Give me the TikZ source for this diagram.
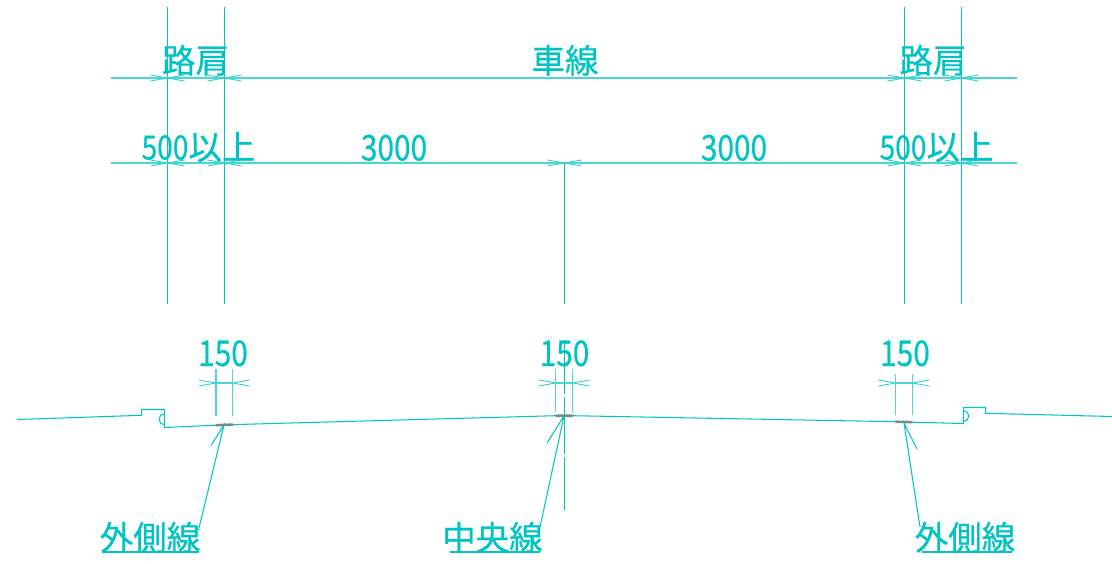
\documentclass[tikz,border=0pt]{standalone}
\usepackage{fontspec}
\setmainfont{Noto Sans CJK JP}
\newfontfamily\cadfont[RawFeature={embolden=0.6}]{Noto Sans CJK JP}
\definecolor{cad}{RGB}{0,196,196}
\definecolor{lane}{RGB}{125,135,135}
\tikzset{
  cadline/.style={draw=cad,line width=1.05pt},
  thinline/.style={draw=cad!70,line width=1.2pt},
  tickline/.style={draw=cad!80,line width=0.9pt},
  lanemark/.style={draw=lane,line width=2.6pt},
  lbl/.style={text=cad,inner sep=0pt,anchor=base,font=\cadfont\fontsize{33.5}{33.5}\selectfont},
  num/.style={text=cad,inner sep=0pt,anchor=base,font=\cadfont\fontsize{35.5}{35.5}\selectfont},
}
\newcommand{\nm}[1]{\scalebox{.84}[1]{#1}}
\newcommand{\xtick}[2]{\draw[tickline] (#1-17,#2-3)--(#1,#2)--(#1+17,#2+3) (#1-17,#2+3)--(#1,#2)--(#1+17,#2-3);}
\begin{document}
\begin{tikzpicture}[x=1pt,y=-1pt]
\useasboundingbox (0,0) rectangle (1112,563);
% named points
\foreach \n/\x/\y in {vaT/167.5/7,vaB/167.5/304,vbT/224.5/7,vbB/224.5/304,vcT/904.5/7,vcB/904.5/304,vdT/961.5/7,vdB/961.5/304,
  vmT/564.5/163,vmB/564.5/304,
  h1L/111/78,h1R/1017/78,h2L/111/163,h2R/1017/163,
  laT/216/369,laB/216/416,lbT/232.5/369,lbB/232.5/416,
  maT/555.7/369,maB/555.7/411.5,mbT/572.7/369,mbB/572.7/411.5,
  raT/895.3/374,raB/895.3/414.5,rbT/912.3/374,rbB/912.3/414.5,
  cA/564.5/340,cB/564.5/394,cC/564.5/397,cD/564.5/453.5,cE/564.5/456.5,cF/564.5/510,
  d1L/216/383,d1R/232.5/383,d2L/555.7/383,d2R/572.7/383,d3L/895.3/383,d3R/912.3/383,
  g1/17/419.5,g2/141.7/415.3,g3/141.7/409.5,g4/164.5/409.5,g5/164.5/427.5,g6/216/425.2,g7/233/424.6,g8/555.7/415.7,g9/572.7/415.7,g10/895.3/421.7,g11/912.3/422.2,g12/963.3/423.5,g13/963.3/407.5,g14/985.7/407.5,g15/985.7/413.3,g16/1112/416.5,
  ta/224/425,tc/564/416,tr/904/423,
  ea/198.5/530,ec/540/527,er/920/527,
  ka/211/445.5,kc/547/443,kr/917/449,
  ua/102/552,ub/199/552,uc/450/552,ud/540/552,ue/922/552,uf/1012/552,
  ca/164.5/419.3,cb/963.3/416}
  {\coordinate (\n) at (\x,\y);}
% extension lines
\draw[cadline] (vaT)--(vaB) (vbT)--(vbB) (vcT)--(vcB) (vdT)--(vdB) (vmT)--(vmB);
\draw[thinline] (h1L)--(h1R) (h2L)--(h2R);
\draw[thinline] (laT)--(laB) (lbT)--(lbB) (maT)--(maB) (mbT)--(mbB) (raT)--(raB) (rbT)--(rbB);
\draw[cadline] (cA)--(cB) (cC)--(cD) (cE)--(cF);
\draw[thinline] (d1L)--(d1R) (d2L)--(d2R) (d3L)--(d3R);
% ticks
\foreach \x in {167.5,224.5,904.5,961.5}{\xtick{\x}{78}\xtick{\x}{163}}
\xtick{564.5}{163}
\foreach \l/\r in {216/232.5,555.7/572.7,895.3/912.3}{
  \draw[tickline] (\l-17,380)--(\l,383)--(\l-17,386) (\r+17,380)--(\r,383)--(\r+17,386);}
% road profile
\draw[cadline] (g1)--(g2)--(g3)--(g4)--(g5)--(g6)--(g7)--(g8)--(g9)--(g10)--(g11)--(g12)--(g13)--(g14)--(g15)--(g16);
\draw[cadline] ([yshift=-5.5pt]ca) arc[start angle=270,end angle=90,radius=5.5pt];
\draw[cadline] ([yshift=-5.5pt]cb) arc[start angle=-90,end angle=90,radius=5.5pt];
\draw[lanemark] (g6)--(g7) (g8)--(g9) (g10)--(g11);
% leaders
\draw[cadline] (ka)--(ta)--(ea) (kc)--(tc)--(ec) (kr)--(tr)--(er);
\draw[cadline,line width=1.4pt] (ua)--(ub) (uc)--(ud) (ue)--(uf);
% labels
\node[lbl] (t1) at (195.5,73) {路肩};
\node[lbl] (t2) at (565,73) {車線};
\node[lbl] (t3) at (933,73) {路肩};
\node[lbl] (t4) at (198.5,159.5) {\nm{500}以上};
\node[num] (t5) at (394,160.5) {\nm{3000}};
\node[num] (t6) at (734,160.5) {\nm{3000}};
\node[lbl] (t7) at (936.5,159.5) {\nm{500}以上};
\node[num] (t8) at (223,366) {\nm{150}};
\node[num] (t9) at (564.5,366) {\nm{150}};
\node[num] (t10) at (905,366) {\nm{150}};
\node[lbl] (t11) at (150,550) {外側線};
\node[lbl] (t12) at (492.5,550) {中央線};
\node[lbl] (t13) at (965,550) {外側線};
\end{tikzpicture}
\end{document}
